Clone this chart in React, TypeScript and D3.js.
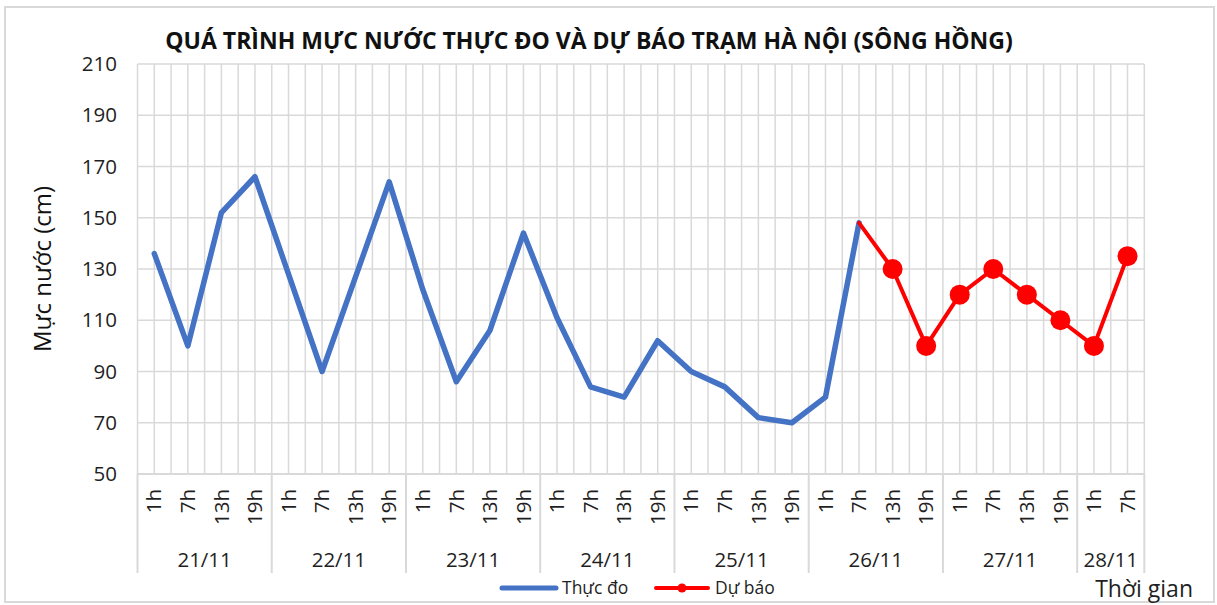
import React from "react";
import * as d3 from "d3";

const title = "QUÁ TRÌNH MỰC NƯỚC THỰC ĐO VÀ DỰ BÁO TRẠM HÀ NỘI (SÔNG HỒNG)";
const dayLabels = ["21/11", "22/11", "23/11", "24/11", "25/11", "26/11", "27/11", "28/11"];
const dayCounts = [4, 4, 4, 4, 4, 4, 4, 2];
const hourLabels = [
  "1h", "7h", "13h", "19h",
  "1h", "7h", "13h", "19h",
  "1h", "7h", "13h", "19h",
  "1h", "7h", "13h", "19h",
  "1h", "7h", "13h", "19h",
  "1h", "7h", "13h", "19h",
  "1h", "7h", "13h", "19h",
  "1h", "7h",
];
const observed = [
  136, 100, 152, 166,
  128, 90, 127, 164,
  122, 86, 106, 144,
  111, 84, 80, 102,
  90, 84, 72, 70,
  80, 148,
];
const forecast: (number | null)[] = [
  null, null, null, null,
  null, null, null, null,
  null, null, null, null,
  null, null, null, null,
  null, null, null, null,
  null, 148, 130, 100,
  120, 130, 120, 110,
  100, 135,
];
const yTicks = [50, 70, 90, 110, 130, 150, 170, 190, 210];
const seriesNames = ["Thực đo", "Dự báo"];

const W = 1217;
const H = 605;
const plot = { left: 137.5, right: 1144.3, top: 64, bottom: 474 };
const FONT = "'Open Sans', 'Noto Sans', sans-serif";
const TXT = "#1f1f1f";
const GRID = "#d9d9d9";
const BLUE = "#4472C4";
const RED = "#FF0000";

export default function App() {
  const keys = hourLabels.map((_, i) => String(i));
  const x = d3.scaleBand<string>().domain(keys).range([plot.left, plot.right]).padding(0);
  const bw = x.bandwidth();
  const cx = (i: number) => (x(String(i)) as number) + bw / 2;
  const y = d3.scaleLinear().domain([50, 210]).range([plot.bottom, plot.top]);

  const obsLine = d3
    .line<number>()
    .x((_, i) => cx(i))
    .y((d) => y(d));
  const fcPts = forecast
    .map((v, i) => ({ v, i }))
    .filter((p) => p.v !== null) as { v: number; i: number }[];
  const fcLine = d3
    .line<{ v: number; i: number }>()
    .x((d) => cx(d.i))
    .y((d) => y(d.v));

  const vLines: number[] = [];
  for (let k = 0; k <= hourLabels.length * 2; k++) vLines.push(plot.left + (k * bw) / 2);

  const groups: { label: string; start: number; end: number }[] = [];
  let acc = 0;
  dayLabels.forEach((d, gi) => {
    const s = acc;
    acc += dayCounts[gi];
    groups.push({ label: d, start: x(String(s)) as number, end: (x(String(acc - 1)) as number) + bw });
  });
  const sepBottom = 573;

  return (
    <svg
      width={W}
      height={H}
      style={{ position: "absolute", left: 0, top: 0, background: "#fff" }}
      fontFamily={FONT}
    >
      <rect x={5} y={7} width={1209} height={595} fill="#fff" stroke={GRID} strokeWidth={2} />
      <text x={589} y={49} textAnchor="middle" fontSize={23} fontWeight="bold" fill="#111">
        {title}
      </text>

      {yTicks.map((t) => (
        <line key={"h" + t} x1={plot.left} x2={plot.right} y1={y(t)} y2={y(t)} stroke={GRID} strokeWidth={1.5} />
      ))}
      {vLines.map((vx, k) => (
        <line key={"v" + k} x1={vx} x2={vx} y1={plot.top} y2={plot.bottom} stroke={GRID} strokeWidth={1.5} />
      ))}

      {yTicks.map((t) => (
        <text key={"yt" + t} x={117} y={y(t)} dy="0.35em" textAnchor="end" fontSize={20.5} fill={TXT}>
          {t}
        </text>
      ))}
      <text
        transform={`translate(51,${(plot.top + plot.bottom) / 2}) rotate(-90)`}
        textAnchor="middle"
        fontSize={24}
        fill="#111"
      >
        Mực nước (cm)
      </text>

      <line x1={plot.left} x2={plot.right} y1={plot.bottom} y2={plot.bottom} stroke={GRID} strokeWidth={2} />
      {groups.map((g, gi) => (
        <line key={"s" + gi} x1={g.start} x2={g.start} y1={plot.bottom} y2={sepBottom} stroke={GRID} strokeWidth={2} />
      ))}
      <line x1={plot.right} x2={plot.right} y1={plot.bottom} y2={sepBottom} stroke={GRID} strokeWidth={2} />
      {hourLabels.map((h, i) => (
        <text
          key={"hl" + i}
          transform={`translate(${cx(i)},489) rotate(-90)`}
          textAnchor="end"
          dy="0.35em"
          fontSize={20.5}
          fill={TXT}
        >
          {h}
        </text>
      ))}
      {groups.map((g, gi) => (
        <text key={"dl" + gi} x={(g.start + g.end) / 2} y={567} textAnchor="middle" fontSize={20.5} fill={TXT}>
          {g.label}
        </text>
      ))}
      <text x={1193} y={597} textAnchor="end" fontSize={23} fill={TXT}>
        Thời gian
      </text>

      <path d={obsLine(observed) || ""} fill="none" stroke={BLUE} strokeWidth={5.5} strokeLinejoin="round" strokeLinecap="round" />
      <path d={fcLine(fcPts) || ""} fill="none" stroke={RED} strokeWidth={4} strokeLinejoin="round" strokeLinecap="round" />
      {fcPts.slice(1).map((p) => (
        <circle key={"m" + p.i} cx={cx(p.i)} cy={y(p.v)} r={10} fill={RED} />
      ))}

      <line x1={502} x2={556} y1={588} y2={588} stroke={BLUE} strokeWidth={5} strokeLinecap="round" />
      <text x={562} y={588} dy="0.35em" fontSize={17.5} fill={TXT}>
        {seriesNames[0]}
      </text>
      <line x1={656} x2={708} y1={588} y2={588} stroke={RED} strokeWidth={4} strokeLinecap="round" />
      <circle cx={682} cy={588} r={4.5} fill={RED} />
      <text x={715} y={588} dy="0.35em" fontSize={17.5} fill={TXT}>
        {seriesNames[1]}
      </text>
    </svg>
  );
}
